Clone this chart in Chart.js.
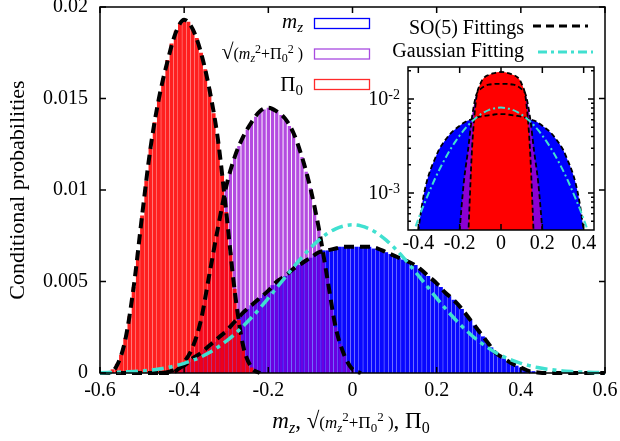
<!DOCTYPE html>
<html>
<head>
<meta charset="utf-8">
<script src="https://cdn.jsdelivr.net/npm/chart.js@4"></script>
<style>
  html, body { margin: 0; padding: 0; background: #fff; }
  #wrap { position: relative; width: 620px; height: 441px; }
  #main { position: absolute; left: 0; top: 0; }
  #inset { position: absolute; left: 350px; top: 55px; }
</style>
</head>
<body>
<div id="wrap">
  <canvas id="main" width="620" height="441"></canvas>
  <canvas id="inset" width="260" height="205"></canvas>
</div>
<script>
// histograms (bin width 0.01)
const binWidth = 0.01;
const redHistStart = -0.57;
const redHist = [
  0.0002, 0.0005, 0.0010, 0.0019, 0.0031, 0.0047, 0.0066, 0.0086, 0.0105, 0.0123,
  0.0137, 0.0150, 0.0161, 0.0171, 0.0180, 0.0187, 0.0191, 0.0193, 0.0192, 0.0188,
  0.0183, 0.0175, 0.0166, 0.0155, 0.0142, 0.0127, 0.0108, 0.0088, 0.0066, 0.0046,
  0.0029, 0.0016, 0.0008, 0.0003, 0.0001
];
const purpleHistStart = -0.42;
const purpleHist = [
  0.0001, 0.0003, 0.0006, 0.0009, 0.0014, 0.0020, 0.0029, 0.0041, 0.0054, 0.0067,
  0.0079, 0.0091, 0.0102, 0.0111, 0.0118, 0.0124, 0.0129, 0.0133, 0.0137, 0.0140,
  0.0143, 0.0144, 0.0145, 0.0145, 0.0143, 0.0141, 0.0139, 0.0135, 0.0131, 0.0125,
  0.0118, 0.0110, 0.0101, 0.0091, 0.0079, 0.0066, 0.0052, 0.0038, 0.0025, 0.0016,
  0.0010, 0.0005, 0.0002
];
const blueHistStart = -0.44;
const blueHist = [
  0.0001, 0.0001, 0.0002, 0.0003, 0.0004, 0.0006, 0.0008, 0.0010, 0.0011, 0.0013,
  0.0015, 0.0017, 0.0019, 0.0021, 0.0023, 0.0026, 0.0028, 0.0031, 0.0033, 0.0035,
  0.0037, 0.0039, 0.0041, 0.0043, 0.0045, 0.0048, 0.0050, 0.0052, 0.0053, 0.0055,
  0.0057, 0.0059, 0.0060, 0.0062, 0.0063, 0.0065, 0.0066, 0.0067, 0.0067, 0.0068,
  0.0068, 0.0069, 0.0069, 0.0069, 0.0069, 0.0069, 0.0069, 0.0069, 0.0069, 0.0068,
  0.0068, 0.0067, 0.0066, 0.0065, 0.0064, 0.0063, 0.0062, 0.0061, 0.0060, 0.0059,
  0.0057, 0.0055, 0.0053, 0.0051, 0.0049, 0.0047, 0.0044, 0.0042, 0.0040, 0.0037,
  0.0035, 0.0032, 0.0029, 0.0026, 0.0023, 0.0020, 0.0017, 0.0014, 0.0011, 0.0009,
  0.0008, 0.0006, 0.0005, 0.0004, 0.0003, 0.0002, 0.0001, 0.0001
];

// fitted curves (step 0.02)
const fitStep = 0.02;
const redFitStart = -0.60;
const redFit = [
  0, 0, 0.0004, 0.0018, 0.0047, 0.0086, 0.0123, 0.0150, 0.0170, 0.0186,
  0.0193, 0.0188, 0.0175, 0.0155, 0.0128, 0.0088, 0.0045, 0.0015, 0.0003, 0
];
const purpleFitStart = -0.46;
const purpleFit = [
  0, 0, 0.0001, 0.0006, 0.0014, 0.0029, 0.0054, 0.0079, 0.0102, 0.0118,
  0.0129, 0.0137, 0.0143, 0.0145, 0.0143, 0.0139, 0.0131, 0.0118, 0.0101, 0.0079,
  0.0052, 0.0025, 0.0010, 0.0002, 0
];
const blueFitStart = -0.60;
const blueFit = [
  0, 0, 0, 0, 0, 0, 0, 0, 0.00005, 0.0002,
  0.0004, 0.0008, 0.0011, 0.0015, 0.0019, 0.0023, 0.0028, 0.0033, 0.0037, 0.0041,
  0.0045, 0.0050, 0.0053, 0.0057, 0.0060, 0.0063, 0.0066, 0.0067, 0.0068, 0.0069,
  0.0069, 0.0069, 0.0069, 0.0068, 0.0066, 0.0064, 0.0062, 0.0060, 0.0057, 0.0053,
  0.0049, 0.0044, 0.0040, 0.0035, 0.0029, 0.0023, 0.0017, 0.0011, 0.0008, 0.0005,
  0.0003, 0.0001, 0.00003, 0, 0, 0, 0, 0, 0, 0, 0
];
const gaussStart = -0.60;
const gaussFit = [
  0.00002, 0.00003, 0.00004, 0.00006, 0.00008, 0.00011, 0.00016, 0.00022, 0.00030, 0.00040,
  0.00053, 0.00069, 0.00088, 0.00112, 0.00141, 0.00174, 0.00212, 0.00255, 0.00303, 0.00354,
  0.00409, 0.00466, 0.00523, 0.00579, 0.00633, 0.00683, 0.00726, 0.00762, 0.00788, 0.00804,
  0.00810,
  0.00804, 0.00788, 0.00762, 0.00726, 0.00683, 0.00633, 0.00579, 0.00523, 0.00466, 0.00409,
  0.00354, 0.00303, 0.00255, 0.00212, 0.00174, 0.00141, 0.00112, 0.00088, 0.00069, 0.00053,
  0.00040, 0.00030, 0.00022, 0.00016, 0.00011, 0.00008, 0.00006, 0.00004, 0.00003, 0.00002
];

// inset (log scale), step 0.02, centred distributions
const insetStep = 0.02;
const insetRedStart = -0.18;
const insetRed = [
  0.00005, 0.0003, 0.0030, 0.0100, 0.0145, 0.0170, 0.0180, 0.0187, 0.0192, 0.0194,
  0.0192, 0.0187, 0.0180, 0.0170, 0.0145, 0.0100, 0.0030, 0.0003, 0.00005
];
const insetPurpleStart = -0.22;
const insetPurple = [
  0.0001, 0.0004, 0.0013, 0.0028, 0.0065, 0.0110, 0.0127, 0.0137, 0.0142, 0.0144,
  0.0145, 0.0145, 0.0145, 0.0144, 0.0142, 0.0137, 0.0127, 0.0110, 0.0065, 0.0028,
  0.0013, 0.0004, 0.0001
];
const insetBlueStart = -0.44;
const insetBlue = [
  0.0001, 0.0002, 0.0004, 0.0008, 0.0013, 0.0018, 0.0023, 0.0029, 0.0034, 0.0039,
  0.0044, 0.0048, 0.0052, 0.0056, 0.0059, 0.0061, 0.0063, 0.0065, 0.0066, 0.0067,
  0.0068, 0.0069, 0.0069, 0.0069, 0.0068, 0.0067, 0.0066, 0.0065, 0.0063, 0.0061,
  0.0059, 0.0056, 0.0052, 0.0048, 0.0044, 0.0039, 0.0034, 0.0029, 0.0023, 0.0018,
  0.0013, 0.0008, 0.0004, 0.0002, 0.0001
];

// ticks
const xTicks = [-0.6, -0.4, -0.2, 0, 0.2, 0.4, 0.6];
const xTickLabels = ['-0.6', '-0.4', '-0.2', '0', '0.2', '0.4', '0.6'];
const yTicks = [0, 0.005, 0.01, 0.015, 0.02];
const yTickLabels = ['0', '0.005', '0.01', '0.015', '0.02'];
const insetXTicks = [-0.4, -0.2, 0, 0.2, 0.4];
const insetXTickLabels = ['-0.4', '-0.2', '0', '0.2', '0.4'];
const insetYTicks = [0.001, 0.01];
const insetYTickExp = ['-3', '-2'];
const insetYMinor = [0.0005, 0.0006, 0.0007, 0.0008, 0.0009,
  0.002, 0.003, 0.004, 0.005, 0.006, 0.007, 0.008, 0.009, 0.02];

const serif = "'Liberation Serif', 'Times New Roman', serif";
Chart.defaults.font.family = serif;
Chart.defaults.font.size = 20;
Chart.defaults.color = '#000';

function toPoints(start, step, values) {
  return values.map((v, i) => ({ x: Math.round((start + i * step) * 1000) / 1000, y: v }));
}

const fontOf = r => (r.i ? 'italic ' : '') + r.s + 'px ' + serif;
function drawRich(ctx, runs, x, y, align) {
  let w = 0;
  runs.forEach(r => { ctx.font = fontOf(r); w += ctx.measureText(r.t).width; });
  let cx = align === 'right' ? x - w : align === 'center' ? x - w / 2 : x;
  ctx.textAlign = 'left';
  ctx.textBaseline = 'alphabetic';
  runs.forEach(r => {
    ctx.font = fontOf(r);
    ctx.fillText(r.t, cx, y + (r.dy || 0));
    cx += ctx.measureText(r.t).width;
  });
}

function drawFrame(chart, xs, ys, len, minorYs, minorLen) {
  const { ctx, chartArea: a, scales } = chart;
  ctx.save();
  ctx.strokeStyle = '#000';
  ctx.lineWidth = 1.5;
  ctx.setLineDash([]);
  ctx.strokeRect(a.left, a.top, a.right - a.left, a.bottom - a.top);
  ctx.beginPath();
  xs.forEach(v => {
    const p = scales.x.getPixelForValue(v);
    ctx.moveTo(p, a.bottom); ctx.lineTo(p, a.bottom - len);
    ctx.moveTo(p, a.top); ctx.lineTo(p, a.top + len);
  });
  ys.forEach(v => {
    const p = scales.y.getPixelForValue(v);
    ctx.moveTo(a.left, p); ctx.lineTo(a.left + len, p);
    ctx.moveTo(a.right, p); ctx.lineTo(a.right - len, p);
  });
  (minorYs || []).forEach(v => {
    const p = scales.y.getPixelForValue(v);
    if (p < a.top || p > a.bottom) return;
    ctx.moveTo(a.left, p); ctx.lineTo(a.left + minorLen, p);
    ctx.moveTo(a.right, p); ctx.lineTo(a.right - minorLen, p);
  });
  ctx.stroke();
  ctx.restore();
}

const mainDecor = {
  id: 'mainDecor',
  afterDraw(chart) {
    const ctx = chart.ctx;
    drawFrame(chart, xTicks, yTicks, 6);
    ctx.save();
    ctx.fillStyle = '#000';

    // y title
    ctx.save();
    ctx.translate(18, 190);
    ctx.rotate(-Math.PI / 2);
    ctx.font = '22px ' + serif;
    ctx.textAlign = 'center';
    ctx.textBaseline = 'middle';
    ctx.fillText('Conditional probabilities', 0, 0);
    ctx.restore();

    // x title
    drawRich(ctx, [
      { t: 'm', s: 23, i: 1 }, { t: 'z', s: 16, i: 1, dy: 5 }, { t: ', ', s: 23 },
      { t: '√', s: 23 }, { t: '(', s: 17 }, { t: 'm', s: 17, i: 1 }, { t: 'z', s: 13, i: 1, dy: 4 },
      { t: '2', s: 13, dy: -7 }, { t: '+', s: 17 }, { t: 'Π', s: 17 }, { t: '0', s: 13, dy: 4 },
      { t: '2', s: 13, dy: -7 }, { t: ' )', s: 17 }, { t: ', ', s: 23 },
      { t: 'Π', s: 23 }, { t: '0', s: 16, dy: 5 }
    ], 351, 428, 'center');

    // legend, left column
    drawRich(ctx, [{ t: 'm', s: 21, i: 1 }, { t: 'z', s: 15, i: 1, dy: 4 }], 303, 28, 'right');
    drawRich(ctx, [
      { t: '√', s: 22 }, { t: '(', s: 16 }, { t: 'm', s: 16, i: 1 }, { t: 'z', s: 12, i: 1, dy: 3 },
      { t: '2', s: 12, dy: -6 }, { t: '+', s: 16 }, { t: 'Π', s: 16 }, { t: '0', s: 12, dy: 3 },
      { t: '2', s: 12, dy: -6 }, { t: ' )', s: 16 }
    ], 303, 59, 'right');
    drawRich(ctx, [{ t: 'Π', s: 21 }, { t: '0', s: 15, dy: 4 }], 303, 91, 'right');
    ctx.lineWidth = 1.3;
    [['#0000ff', 18], ['#a84be0', 48.5], ['#ff2a2a', 79]].forEach(([c, y]) => {
      ctx.strokeStyle = c;
      ctx.strokeRect(314.5, y + 0.5, 55, 10);
    });

    // legend, right column
    drawRich(ctx, [{ t: 'SO(5) Fittings', s: 20 }], 524, 34, 'right');
    drawRich(ctx, [{ t: 'Gaussian Fitting', s: 20 }], 524, 57, 'right');
    ctx.lineWidth = 3;
    ctx.strokeStyle = '#000';
    ctx.setLineDash([8, 5]);
    ctx.beginPath(); ctx.moveTo(533, 26); ctx.lineTo(588, 26); ctx.stroke();
    ctx.strokeStyle = '#40e0d0';
    ctx.setLineDash([9, 4, 3, 4]);
    ctx.beginPath(); ctx.moveTo(538, 52); ctx.lineTo(593, 52); ctx.stroke();
    ctx.restore();
  }
};

const fitStyle = {
  type: 'line', borderColor: '#000', borderWidth: 4, borderDash: [10, 6],
  pointRadius: 0, cubicInterpolationMode: 'monotone', fill: false, order: 1, clip: 6
};

new Chart(document.getElementById('main'), {
  type: 'bar',
  data: {
    datasets: [
      { type: 'line', label: 'Gaussian Fitting', data: toPoints(gaussStart, fitStep, gaussFit),
        borderColor: '#40e0d0', borderWidth: 3.5, borderDash: [12, 5, 4, 5], pointRadius: 0,
        cubicInterpolationMode: 'monotone', fill: false, order: 0, clip: 6 },
      Object.assign({ label: 'SO(5) Π0', data: toPoints(redFitStart, fitStep, redFit) }, fitStyle),
      Object.assign({ label: 'SO(5) sqrt', data: toPoints(purpleFitStart, fitStep, purpleFit) }, fitStyle),
      Object.assign({ label: 'SO(5) mz', data: toPoints(blueFitStart, fitStep, blueFit) }, fitStyle),
      { label: 'Π0', data: toPoints(redHistStart, binWidth, redHist),
        backgroundColor: 'rgba(255,0,0,0.88)', barPercentage: 0.93, order: 2 },
      { label: '√(mz²+Π0²)', data: toPoints(purpleHistStart, binWidth, purpleHist),
        backgroundColor: 'rgba(148,0,211,0.7)', barPercentage: 0.78, order: 3 },
      { label: 'mz', data: toPoints(blueHistStart, binWidth, blueHist),
        backgroundColor: 'rgba(0,0,255,0.97)', barPercentage: 0.93, order: 4 }
    ]
  },
  options: {
    responsive: false,
    animation: false,
    layout: { padding: { top: 7, right: 15, left: 0, bottom: 0 } },
    plugins: { legend: { display: false }, tooltip: { enabled: false } },
    datasets: { bar: { grouped: false, categoryPercentage: 1, borderWidth: 0 } },
    scales: {
      x: {
        type: 'linear', min: -0.6, max: 0.6, offset: false,
        grid: { display: false, drawTicks: false }, border: { display: false },
        afterBuildTicks: s => { s.ticks = xTicks.map(v => ({ value: v })); },
        ticks: { padding: 6, maxRotation: 0, autoSkip: false, callback: (v, i) => xTickLabels[i] },
        afterFit: s => { s.height = 68; s.paddingLeft = 0; s.paddingRight = 0; }
      },
      y: {
        type: 'linear', min: 0, max: 0.02,
        grid: { display: false, drawTicks: false }, border: { display: false },
        afterBuildTicks: s => { s.ticks = yTicks.map(v => ({ value: v })); },
        ticks: { padding: 12, autoSkip: false, callback: (v, i) => yTickLabels[i] },
        afterFit: s => { s.width = 100; s.paddingTop = 0; s.paddingBottom = 0; }
      }
    }
  },
  plugins: [mainDecor]
});

// inset
const insetDecor = {
  id: 'insetDecor',
  beforeDatasetsDraw(chart) {
    const { ctx, chartArea: a } = chart;
    ctx.save();
    ctx.fillStyle = '#fff';
    ctx.fillRect(a.left, a.top, a.right - a.left, a.bottom - a.top);
    ctx.restore();
  },
  afterDraw(chart) {
    const { ctx, chartArea: a, scales } = chart;
    drawFrame(chart, insetXTicks, insetYTicks, 6, insetYMinor, 3);
    ctx.save();
    ctx.fillStyle = '#000';
    insetYTicks.forEach((v, i) => {
      const p = scales.y.getPixelForValue(v);
      ctx.font = '14px ' + serif;
      const we = ctx.measureText(insetYTickExp[i]).width;
      ctx.textAlign = 'right';
      ctx.textBaseline = 'middle';
      ctx.fillText(insetYTickExp[i], a.left - 8, p - 4);
      ctx.font = '20px ' + serif;
      ctx.fillText('10', a.left - 8 - we, p + 1);
    });
    ctx.restore();
  }
};

const insetFit = {
  borderColor: '#000', borderWidth: 1.8, borderDash: [5, 3], pointRadius: 0,
  cubicInterpolationMode: 'monotone', fill: false, order: 1
};
const insetFill = {
  borderWidth: 0, pointRadius: 0, cubicInterpolationMode: 'monotone', fill: 'start'
};

new Chart(document.getElementById('inset'), {
  type: 'line',
  data: {
    datasets: [
      { label: 'Gaussian', data: toPoints(gaussStart, fitStep, gaussFit), borderColor: '#40e0d0',
        borderWidth: 2, borderDash: [7, 3, 2, 3], pointRadius: 0,
        cubicInterpolationMode: 'monotone', fill: false, order: 0 },
      Object.assign({ data: toPoints(insetRedStart, insetStep, insetRed) }, insetFit),
      Object.assign({ data: toPoints(insetPurpleStart, insetStep, insetPurple) }, insetFit),
      Object.assign({ data: toPoints(insetBlueStart, insetStep, insetBlue) }, insetFit),
      Object.assign({ data: toPoints(insetRedStart, insetStep, insetRed),
        backgroundColor: '#ff0000', order: 2 }, insetFill),
      Object.assign({ data: toPoints(insetPurpleStart, insetStep, insetPurple),
        backgroundColor: '#8c00d2', order: 3 }, insetFill),
      Object.assign({ data: toPoints(insetBlueStart, insetStep, insetBlue),
        backgroundColor: '#0000ff', order: 4 }, insetFill)
    ]
  },
  options: {
    responsive: false,
    animation: false,
    layout: { padding: { top: 12, right: 16, left: 0, bottom: 0 } },
    plugins: { legend: { display: false }, tooltip: { enabled: false } },
    scales: {
      x: {
        type: 'linear', min: -0.45, max: 0.45,
        grid: { display: false, drawTicks: false }, border: { display: false },
        afterBuildTicks: s => { s.ticks = insetXTicks.map(v => ({ value: v })); },
        ticks: { padding: 2, maxRotation: 0, autoSkip: false, callback: (v, i) => insetXTickLabels[i] },
        afterFit: s => { s.height = 30; s.paddingLeft = 0; s.paddingRight = 0; }
      },
      y: {
        type: 'logarithmic', min: 0.000404, max: 0.0219,
        grid: { display: false, drawTicks: false }, border: { display: false },
        afterBuildTicks: s => { s.ticks = insetYTicks.map(v => ({ value: v })); },
        ticks: { display: false },
        afterFit: s => { s.width = 58; s.paddingTop = 0; s.paddingBottom = 0; }
      }
    }
  },
  plugins: [insetDecor]
});
</script>
</body>
</html>
